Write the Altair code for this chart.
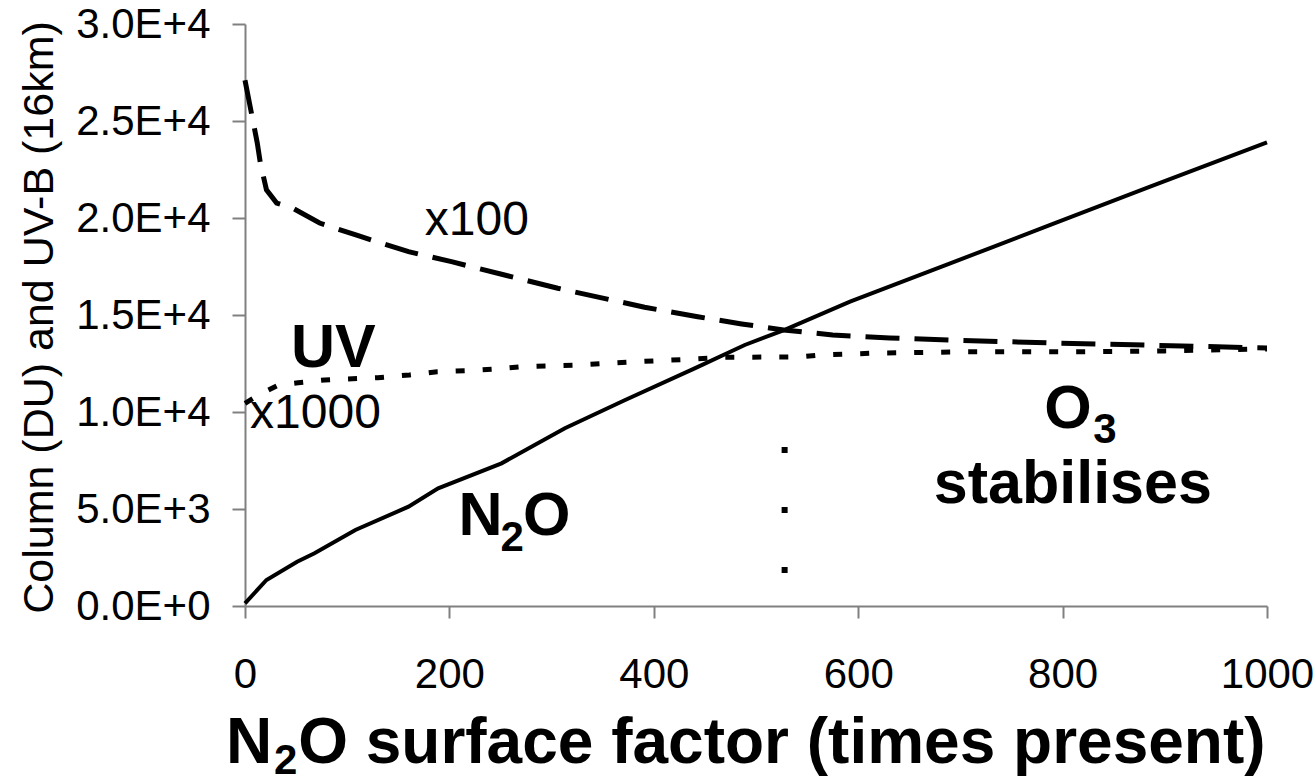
import altair as alt
import pandas as pd

# ---- data ----
n2o_x = [0, 21, 51, 68, 108, 160, 189, 251, 313, 372, 440, 489, 528, 592, 690, 729, 788, 885, 1000]
n2o_y = [140, 1340, 2285, 2715, 3918, 5120, 6066, 7355, 9160, 10620, 12250, 13455, 14230, 15690, 17660, 18450, 19640, 21600, 23900]

uvb_x = [0, 12, 15, 21, 31, 47, 73, 110, 160, 202, 254, 306, 359, 391, 443, 486, 527, 575, 631, 690, 787, 880, 1000]
uvb_y = [27100, 23870, 22840, 21450, 20770, 20500, 19740, 19100, 18265, 17750, 17060, 16380, 15770, 15400, 14910, 14540, 14230, 13970, 13820, 13710, 13560, 13450, 13300]

uv_x = [0, 16, 33, 52, 78, 130, 161, 188, 215, 245, 271, 326, 382, 440, 470, 543, 563, 621, 700, 800, 900, 1000]
uv_y = [10450, 10960, 11390, 11510, 11650, 11770, 11910, 12080, 12130, 12220, 12340, 12420, 12590, 12730, 12820, 12840, 12940, 13040, 13100, 13100, 13150, 13250]

marker_x = [528, 528]
marker_y = [8196, 1701]

x_ticks = [0, 200, 400, 600, 800, 1000]
y_ticks = [0, 5000, 10000, 15000, 20000, 25000, 30000]
y_tick_labels = ["0.0E+0", "5.0E+3", "1.0E+4", "1.5E+4", "2.0E+4", "2.5E+4", "3.0E+4"]

# annotations (data coordinates)
ann_regular_text = ["x100", "x1000"]
ann_regular_x = [176, 5]
ann_regular_y = [19125, 9176]

ann_bold_text = ["UV", "N", "O", "O", "stabilises"]
ann_bold_x = [45, 209, 272, 782, 674]
ann_bold_y = [12320, 3660, 3660, 9176, 5310]

ann_sub_text = ["2", "3"]
ann_sub_x = [250, 830]
ann_sub_y = [2835, 8403]

# x-axis title pieces (N, subscript 2, rest), placed below the plot
xtitle_main_text = ["N", "O surface factor (times present)"]
xtitle_main_x = [-18.6, 52]
xtitle_main_y = [-8093, -8093]
xtitle_sub_text = ["2"]
xtitle_sub_x = [28.4]
xtitle_sub_y = [-8660]

FONT = "Liberation Sans"

label_expr = ""
for v, lab in zip(y_ticks, y_tick_labels):
    label_expr += f"datum.value == {v} ? '{lab}' : "
label_expr += "''"

x_enc = alt.X(
    "x:Q",
    scale=alt.Scale(domain=[0, 1000], nice=False, zero=False),
    axis=alt.Axis(
        values=x_ticks,
        format="d",
        title="",
        labelFont=FONT, labelFontSize=42, labelColor="black", labelPadding=36,
        tickSize=12, labelFlush=False, labelOverlap=False,
    ),
)
y_enc = alt.Y(
    "y:Q",
    scale=alt.Scale(domain=[0, 30000], nice=False, zero=False),
    axis=alt.Axis(
        values=y_ticks,
        labelExpr=label_expr,
        title="Column (DU) and UV-B (16km)",
        titleFont=FONT, titleFontSize=43, titleFontWeight="normal", titleColor="black",
        titleBaseline="alphabetic", titleX=-193, titleY=293, titleAngle=270,
        labelFont=FONT, labelFontSize=42, labelColor="black", labelPadding=22,
        tickSize=13, labelFlush=False, labelOverlap=False,
    ),
)

n2o_df = pd.DataFrame({"x": n2o_x, "y": n2o_y})
uvb_df = pd.DataFrame({"x": uvb_x, "y": uvb_y})
uv_df = pd.DataFrame({"x": uv_x, "y": uv_y})
marker_df = pd.DataFrame({"x": [marker_x[0]], "y": [marker_y[0]], "y2": [marker_y[1]]})

n2o_line = alt.Chart(n2o_df).mark_line(color="black", strokeWidth=4).encode(x=x_enc, y=y_enc)
uvb_line = alt.Chart(uvb_df).mark_line(color="black", strokeWidth=5, strokeDash=[34, 15]).encode(x=x_enc, y=y_enc)
uv_line = alt.Chart(uv_df).mark_line(color="black", strokeWidth=5, strokeDash=[9, 18]).encode(x=x_enc, y=y_enc)
marker = alt.Chart(marker_df).mark_rule(color="black", strokeWidth=6, strokeDash=[6, 54]).encode(
    x=x_enc, y=y_enc, y2="y2:Q"
)

reg_df = pd.DataFrame({"x": ann_regular_x, "y": ann_regular_y, "t": ann_regular_text})
bold_df = pd.DataFrame({"x": ann_bold_x, "y": ann_bold_y, "t": ann_bold_text})
sub_df = pd.DataFrame({"x": ann_sub_x, "y": ann_sub_y, "t": ann_sub_text})
xt_main_df = pd.DataFrame({"x": xtitle_main_x, "y": xtitle_main_y, "t": xtitle_main_text})
xt_sub_df = pd.DataFrame({"x": xtitle_sub_x, "y": xtitle_sub_y, "t": xtitle_sub_text})

reg_text = alt.Chart(reg_df).mark_text(
    font=FONT, fontSize=48, color="black", align="left", baseline="alphabetic"
).encode(x=x_enc, y=y_enc, text="t:N")
bold_text = alt.Chart(bold_df).mark_text(
    font=FONT, fontSize=61, fontWeight="bold", color="black", align="left", baseline="alphabetic"
).encode(x=x_enc, y=y_enc, text="t:N")
sub_text = alt.Chart(sub_df).mark_text(
    font=FONT, fontSize=42, fontWeight="bold", color="black", align="left", baseline="alphabetic"
).encode(x=x_enc, y=y_enc, text="t:N")
xt_main = alt.Chart(xt_main_df).mark_text(
    font=FONT, fontSize=64, fontWeight="bold", color="black", align="left", baseline="alphabetic"
).encode(x=x_enc, y=y_enc, text="t:N")
xt_sub = alt.Chart(xt_sub_df).mark_text(
    font=FONT, fontSize=42, fontWeight="bold", color="black", align="left", baseline="alphabetic"
).encode(x=x_enc, y=y_enc, text="t:N")

chart = alt.layer(
    n2o_line, uvb_line, uv_line, marker, reg_text, bold_text, sub_text, xt_main, xt_sub
).properties(
    width=1022,
    height=582,
    padding={"left": 245, "top": 24, "right": 49, "bottom": 177},
    autosize=alt.AutoSizeParams(type="none"),
    background="white",
).configure_view(stroke=None).configure_axis(
    grid=False, domainColor="#808080", tickColor="#808080", domainWidth=2, tickWidth=2
)

chart.save("out.html", embed_options={"renderer": "svg", "actions": False})
